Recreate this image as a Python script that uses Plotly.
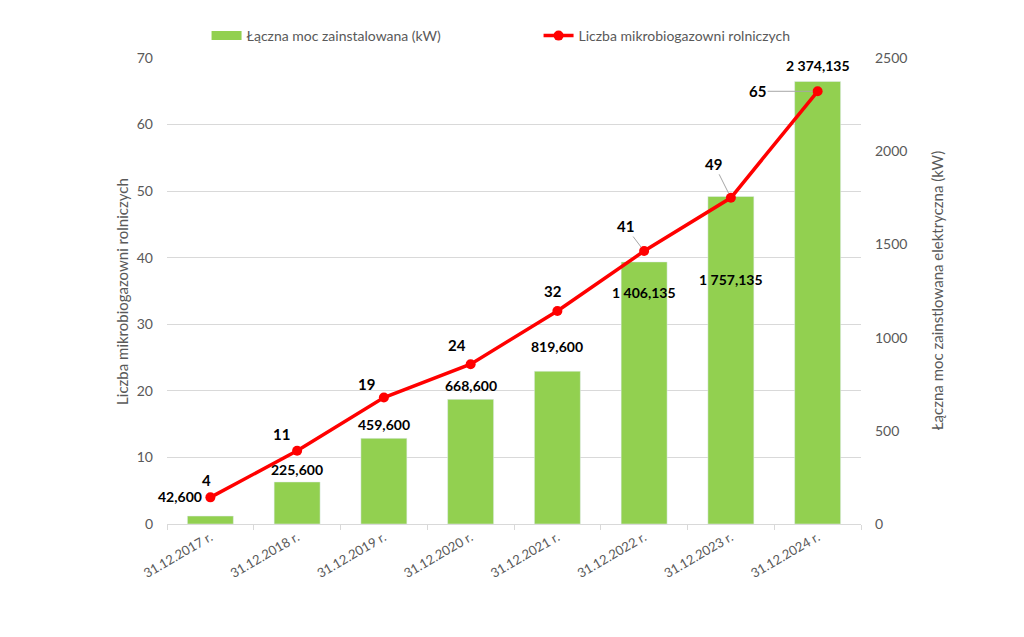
import plotly.graph_objects as go

categories = ["31.12.2017 r.", "31.12.2018 r.", "31.12.2019 r.", "31.12.2020 r.",
              "31.12.2021 r.", "31.12.2022 r.", "31.12.2023 r.", "31.12.2024 r."]
power_kw = [42.6, 225.6, 459.6, 668.6, 819.6, 1406.135, 1757.135, 2374.135]
power_labels = ["42,600", "225,600", "459,600", "668,600", "819,600",
                "1 406,135", "1 757,135", "2 374,135"]
count = [4, 11, 19, 24, 32, 41, 49, 65]

# label offsets (pixels) relative to the data point: (xshift, yshift)
count_offsets = [(-4, 17), (-16, 17), (-17, 14), (-14, 19), (-4, 20), None, None, None]
power_offsets = [(-30, 20), (0, 12), (0, 14), (0, 14), (0, 25), (0, -31), (0, -83), (0, 16)]

FONT = "Lato, 'Open Sans', sans-serif"
GREY = "#595959"
GREEN = "#92D050"

fig = go.Figure()
fig.add_trace(go.Bar(
    x=categories, y=power_kw, name="Łączna moc zainstalowana (kW)",
    marker_color=GREEN, width=0.53, yaxis="y", showlegend=False))
# legend swatch for bars (wide rectangle like the original)
fig.add_trace(go.Scatter(
    x=[categories[0]], y=[None], name="Łączna moc zainstalowana (kW)",
    mode="lines", line=dict(color=GREEN, width=9), yaxis="y", hoverinfo="skip"))
fig.add_trace(go.Scatter(
    x=categories, y=count, name="Liczba mikrobiogazowni rolniczych",
    mode="lines+markers", line=dict(color="#FF0000", width=3.5),
    marker=dict(color="#FF0000", size=10), yaxis="y2"))

annotations = []
for i, c in enumerate(categories):
    dx, dy = power_offsets[i]
    annotations.append(dict(x=c, y=power_kw[i], xref="x", yref="y", text=power_labels[i],
                            showarrow=False, xshift=dx, yshift=dy,
                            font=dict(family=FONT, size=14, color="#000000", weight="bold")))
    off = count_offsets[i]
    if off is not None:
        annotations.append(dict(x=c, y=count[i], xref="x", yref="y2", text=str(count[i]),
                                showarrow=False, xshift=off[0], yshift=off[1],
                                font=dict(family=FONT, size=15, color="#000000", weight="bold")))

leaders = {5: (-19, -25), 6: (-17, -34), 7: (-60, 0)}
for i, (ax, ay) in leaders.items():
    annotations.append(dict(x=categories[i], y=count[i], xref="x", yref="y2", text=str(count[i]),
                            showarrow=True, arrowhead=0, arrowwidth=1, arrowcolor="#A6A6A6",
                            ax=ax, ay=ay, standoff=5,
                            font=dict(family=FONT, size=15, color="#000000", weight="bold")))

# axis titles
annotations.append(dict(text="Liczba mikrobiogazowni rolniczych", xref="paper", yref="paper",
                        x=-0.065, y=0.5, xanchor="center", yanchor="middle",
                        textangle=-90, showarrow=False,
                        font=dict(family=FONT, size=15, color=GREY)))
annotations.append(dict(text="Łączna moc zainstlowana elektryczna (kW)", xref="paper", yref="paper",
                        x=1.11, y=0.5, xanchor="center", yanchor="middle",
                        textangle=-90, showarrow=False,
                        font=dict(family=FONT, size=15, color=GREY)))
fig.update_layout(annotations=annotations)

fig.update_layout(
    width=1024, height=637,
    margin=dict(l=167, r=163, t=58, b=113, autoexpand=False),
    paper_bgcolor="white", plot_bgcolor="white",
    font=dict(family=FONT, color=GREY, size=14),
    showlegend=True,
    legend=dict(orientation="h", x=0.057, xanchor="left", yref="container",
                y=1 - 36 / 637, yanchor="middle",
                font=dict(size=14, color=GREY), itemwidth=30, entrywidth=287,
                entrywidthmode="pixels"),
    bargap=0.47,
    xaxis=dict(showline=True, linecolor="#D9D9D9", linewidth=1, ticks="outside",
               range=[-0.5, len(categories) - 0.5],
               tickson="boundaries", ticklen=5, tickcolor="#D9D9D9", tickangle=-30,
               tickfont=dict(size=13, color=GREY), showgrid=False, automargin=False),
    yaxis=dict(side="right", range=[0, 2500], dtick=500, showgrid=False,
               zeroline=False, showline=False, tickfont=dict(size=14, color=GREY),
               ticklabelstandoff=13, automargin=False),
    yaxis2=dict(side="left", overlaying="y", range=[0, 70], dtick=10,
                showgrid=True, gridcolor="#D9D9D9", gridwidth=1, zeroline=False,
                showline=False, tickfont=dict(size=14, color=GREY), automargin=False,
                ticklabelstandoff=13),
)

fig.write_html("out.html")
